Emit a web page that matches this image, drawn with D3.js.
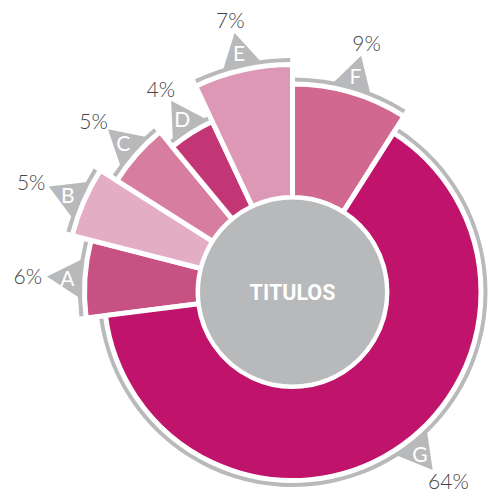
<!DOCTYPE html>
<html><head><meta charset="utf-8">
<script src="https://cdn.jsdelivr.net/npm/d3@7"></script>
<style>html,body{margin:0;padding:0;background:#fff;} svg{display:block;}</style>
</head><body>
<svg id="chart" width="488" height="492"></svg>
<script>
// ---- data ----
const categories = ["A","B","C","D","E","F","G"];
const shares     = [6, 5, 5, 4, 7, 9, 64];
const levels     = [2, 3, 2, 1, 3, 2, 1];   // relative prominence of each slice
const centerTitle = "TITULOS";
const firstCategory = "F";                 // slice that starts at 12 o'clock

// ---- styles / layout ----
const W = 488, H = 492, cx = 292.5, cy = 292;
const palette = ["#c85183","#e3adc4","#d77d9f","#c33675","#dc98b4","#d0688f","#c0136b"];
const gray = "#b8b9bb";
const color = d3.scaleOrdinal(categories, palette);
const rScale = d3.scaleLinear().domain([1, 3]).range([186, 225]);
const innerR = 94.5, holeR = 92.5, sep = 5;
const labelFont = "Lato, 'Open Sans', sans-serif";

const total = d3.sum(shares);
const offset = d3.sum(shares.slice(0, categories.indexOf(firstCategory))) / total * 2 * Math.PI;
const pie = d3.pie().sort(null).value(d => d.v)
  .startAngle(-offset).endAngle(2 * Math.PI - offset);
const data = categories.map((c, i) => ({ c, v: shares[i], lvl: levels[i] }));
const arcs = pie(data);

const svg = d3.select("#chart");
const g = svg.append("g").attr("transform", `translate(${cx},${cy})`);

// outer gray rims
g.selectAll("path.rim").data(arcs).join("path")
  .attr("class", "rim")
  .attr("fill", gray)
  .attr("d", d => {
    const R = rScale(d.data.lvl);
    const ri = R + 4, ro = R + 9, pad = 2.3 / (R + 6.5);
    return d3.arc()({ innerRadius: ri, outerRadius: ro,
      startAngle: d.startAngle + pad, endAngle: d.endAngle - pad });
  });

// slices
g.selectAll("path.slice").data(arcs).join("path")
  .attr("class", "slice")
  .attr("fill", d => color(d.data.c))
  .attr("stroke", "#fff").attr("stroke-width", sep)
  .attr("d", d3.arc().innerRadius(innerR).outerRadius(d => rScale(d.data.lvl) + sep / 2));

// center
g.append("circle").attr("r", holeR).attr("fill", gray);
g.append("text").text(centerTitle)
  .attr("text-anchor", "middle").attr("dominant-baseline", "central")
  .attr("fill", "#fff").attr("font-family", "Roboto, sans-serif")
  .attr("font-weight", 700).attr("font-size", 21.5);

// tabs + labels
const halfBase = 19.5, baseOff = 7.5, apexOff = 40.5, letterOff = 20;
arcs.forEach(d => {
  const R = rScale(d.data.lvl);
  let a = (d.startAngle + d.endAngle) / 2;
  const label = d.data.v + "%";
  const txt = g.append("text").text(label)
    .attr("text-anchor", "middle").attr("dominant-baseline", "central")
    .attr("fill", "#444").attr("font-family", labelFont)
    .attr("font-weight", 300).attr("font-size", 21);
  const tw = txt.node().getComputedTextLength();
  const place = ang => {
    const ap = d3.pointRadial(ang, R + apexOff);
    const ux = Math.sin(ang), uy = -Math.cos(ang);
    return [ap[0] + ux * (tw / 2 + 5), ap[1] + uy * (8 + 6)];
  };
  // keep the label inside the drawing area by sliding it back along its slice
  let p = place(a);
  while (cy + p[1] + 10 > H - 1 && a > d.startAngle) { a -= 0.002; p = place(a); }
  txt.attr("x", p[0]).attr("y", p[1]);

  const rb = R + baseOff;
  const p1 = d3.pointRadial(a - halfBase / rb, rb);
  const p2 = d3.pointRadial(a + halfBase / rb, rb);
  const ap = d3.pointRadial(a, R + apexOff);
  g.insert("path", "text").attr("fill", gray)
    .attr("d", `M${p1}L${ap}L${p2}Z`);
  const lp = d3.pointRadial(a, R + letterOff);
  g.append("text").text(d.data.c)
    .attr("x", lp[0]).attr("y", lp[1])
    .attr("text-anchor", "middle").attr("dominant-baseline", "central")
    .attr("fill", "#fff").attr("font-family", labelFont)
    .attr("font-weight", 400).attr("font-size", 21);
});
</script>
</body></html>
